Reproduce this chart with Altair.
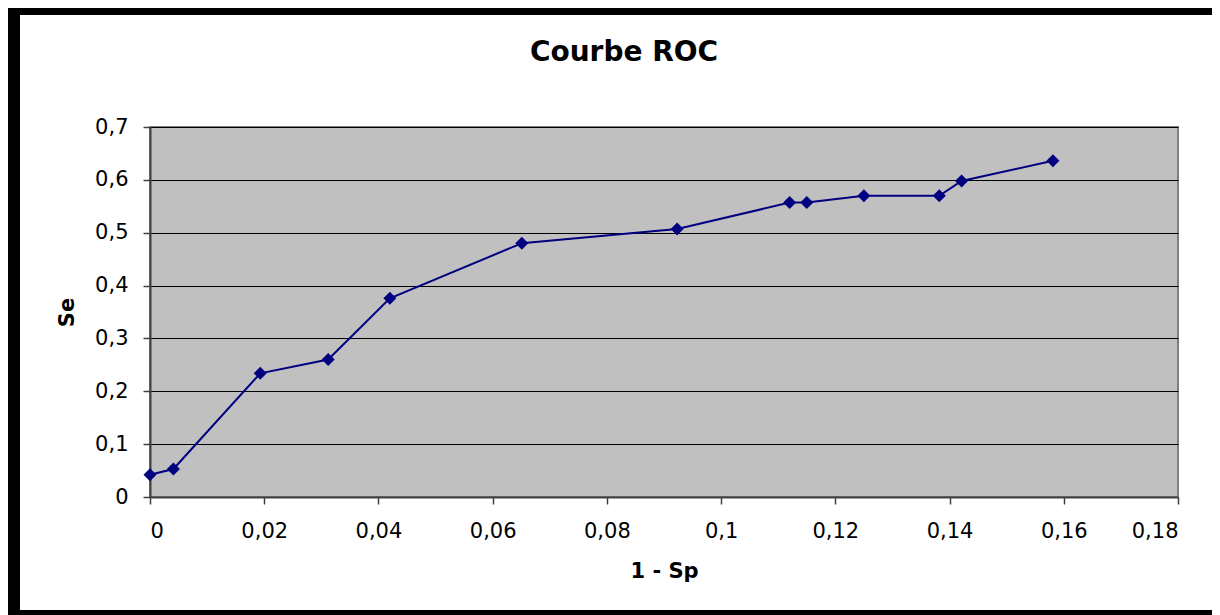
import altair as alt
import pandas as pd

# ROC curve points
one_minus_sp = [0.0, 0.0041, 0.0193, 0.0312, 0.0420, 0.0651, 0.0923, 0.1120, 0.1150, 0.1250, 0.1382, 0.1421, 0.1581]
se = [0.042, 0.053, 0.234, 0.260, 0.376, 0.480, 0.507, 0.557, 0.557, 0.570, 0.570, 0.598, 0.636]

x_ticks = [0, 0.02, 0.04, 0.06, 0.08, 0.1, 0.12, 0.14, 0.16, 0.18]
y_ticks = [0, 0.1, 0.2, 0.3, 0.4, 0.5, 0.6, 0.7]

df = pd.DataFrame({"x": one_minus_sp, "y": se, "i": list(range(len(se)))})

FONT = "DejaVu Sans"
NAVY = "#000080"
label_expr = "replace(format(datum.value, '.2~f'), '.', ',')"

x_enc = alt.X(
    "x:Q",
    scale=alt.Scale(domain=[0, 0.18], nice=False, zero=True),
    axis=alt.Axis(
        values=x_ticks, labelExpr=label_expr, title="1 - Sp", grid=False,
        tickSize=7, tickColor="#404040", tickWidth=1.5,
        domainColor="#404040", domainWidth=2,
        labelPadding=33, labelBaseline="alphabetic", labelFontSize=21,
        labelFont=FONT, labelColor="black",
        titleFont=FONT, titleFontSize=21, titleFontWeight="bold", titleColor="black",
        titleX=514, titleY=80, titleBaseline="alphabetic", titleAlign="center",
    ),
)
y_enc = alt.Y(
    "y:Q",
    scale=alt.Scale(domain=[0, 0.7], nice=False),
    axis=alt.Axis(
        values=y_ticks, labelExpr=label_expr, title="Se", grid=True,
        gridColor="black", gridWidth=1,
        tickSize=7, tickColor="#404040", tickWidth=1.5,
        domainColor="#404040", domainWidth=2,
        labelPadding=15, labelFontSize=21, labelFont=FONT, labelColor="black",
        titleFont=FONT, titleFontSize=21, titleFontWeight="bold", titleColor="black",
        titleAngle=-90, titleX=-77, titleY=185, titleBaseline="alphabetic", titleAlign="center",
    ),
)

line = alt.Chart(df).mark_line(color=NAVY, strokeWidth=2).encode(x=x_enc, y=y_enc, order="i:Q")
points = alt.Chart(df).mark_point(shape="diamond", filled=True, color=NAVY, size=170, opacity=1).encode(x="x:Q", y="y:Q")

one = alt.Data(values=[{"a": 1}])
border_left = alt.Chart(one).mark_rect(color="black").encode(
    x=alt.value(-142), x2=alt.value(-130), y=alt.value(-119), y2=alt.value(488))
border_top = alt.Chart(one).mark_rect(color="black").encode(
    x=alt.value(-142), x2=alt.value(1070), y=alt.value(-119), y2=alt.value(-112))
border_bottom = alt.Chart(one).mark_rect(color="black").encode(
    x=alt.value(-142), x2=alt.value(1070), y=alt.value(483), y2=alt.value(488))
title = alt.Chart(one).mark_text(
    text="Courbe ROC", font=FONT, fontSize=28, fontWeight="bold", color="black",
    align="center", baseline="alphabetic").encode(x=alt.value(474), y=alt.value(-66))

chart = alt.layer(line, points, border_left, border_top, border_bottom, title).properties(
    width=1028, height=370,
    padding={"left": 142, "top": 119, "right": 34, "bottom": 118},
    autosize=alt.AutoSizeParams(type="none"),
    background="white",
).configure_view(fill="#C0C0C0", stroke="#808080", strokeWidth=2)

chart.save("out.html", embed_options={"renderer": "svg", "actions": False})
